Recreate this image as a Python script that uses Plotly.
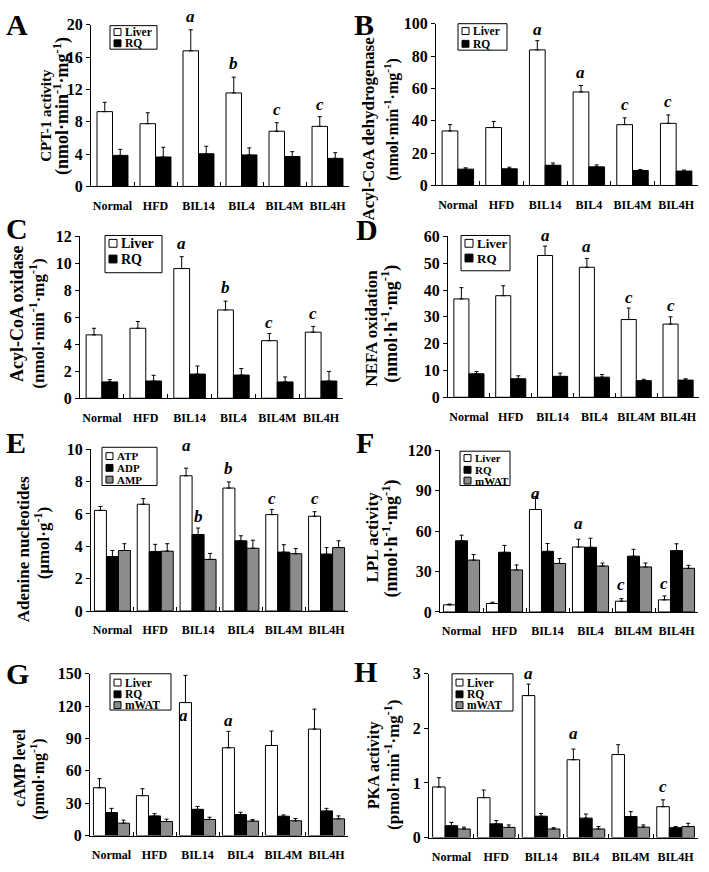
import plotly.graph_objects as go

W, H = 709, 872
categories = ['Normal', 'HFD', 'BIL14', 'BIL4', 'BIL4M', 'BIL4H']

# ---- Panel A: CPT-1 activity ----
a_liver = [9.25, 7.76, 16.77, 11.56, 6.83, 7.43]
a_liver_sem = [1.15, 1.35, 2.6, 1.95, 1.05, 1.2]
a_rq = [3.84, 3.64, 4.04, 3.90, 3.70, 3.47]
a_rq_sem = [0.75, 1.2, 0.93, 0.87, 0.6, 0.7]
a_marks = [('BIL14', 0, 21.0, 'a'), ('BIL4', 0, 15.2, 'b'), ('BIL4M', 0, 9.5, 'c'), ('BIL4H', 0, 10.1, 'c')]

# ---- Panel B: Acyl-CoA dehydrogenase ----
b_liver = [33.7, 35.8, 83.8, 57.8, 37.6, 38.4]
b_liver_sem = [3.9, 3.8, 5.7, 4.0, 4.2, 5.2]
b_rq = [10.1, 10.3, 12.5, 11.5, 9.3, 8.9]
b_rq_sem = [0.8, 1.0, 1.4, 1.2, 0.6, 0.6]
b_marks = [('BIL14', 0, 96.6, 'a'), ('BIL4', 0, 70.0, 'a'), ('BIL4M', 0, 50.0, 'c'), ('BIL4H', 0, 52.0, 'c')]

# ---- Panel C: Acyl-CoA oxidase ----
c_liver = [4.70, 5.19, 9.62, 6.55, 4.27, 4.90]
c_liver_sem = [0.49, 0.5, 0.88, 0.65, 0.53, 0.43]
c_rq = [1.21, 1.28, 1.79, 1.72, 1.21, 1.28]
c_rq_sem = [0.17, 0.42, 0.6, 0.48, 0.37, 0.71]
c_marks = [('BIL14', 0, 11.47, 'a'), ('BIL4', 0, 8.2, 'b'), ('BIL4M', 0, 5.65, 'c'), ('BIL4H', 0, 6.3, 'c')]

# ---- Panel D: NEFA oxidation ----
d_liver = [36.7, 37.9, 52.9, 48.5, 29.0, 27.3]
d_liver_sem = [4.2, 3.7, 3.5, 3.3, 4.3, 2.7]
d_rq = [8.75, 6.9, 7.8, 7.5, 6.2, 6.4]
d_rq_sem = [0.85, 1.1, 1.2, 1.0, 0.5, 0.5]
d_marks = [('BIL14', 0, 60.4, 'a'), ('BIL4', 0, 56.1, 'a'), ('BIL4M', 0, 37.4, 'c'), ('BIL4H', 0, 34.3, 'c')]

# ---- Panel E: Adenine nucleotides ----
e_atp = [6.22, 6.60, 8.36, 7.60, 5.96, 5.86]
e_atp_sem = [0.24, 0.35, 0.47, 0.38, 0.32, 0.28]
e_adp = [3.37, 3.68, 4.73, 4.34, 3.64, 3.52]
e_adp_sem = [0.37, 0.44, 0.4, 0.31, 0.46, 0.4]
e_amp = [3.74, 3.70, 3.19, 3.88, 3.54, 3.92]
e_amp_sem = [0.42, 0.46, 0.37, 0.5, 0.32, 0.42]
e_marks = [('BIL14', 0, 10.2, 'a'), ('BIL14', 1, 5.86, 'b'), ('BIL4', 0, 8.83, 'b'),
           ('BIL4M', 0, 6.97, 'c'), ('BIL4H', 0, 6.93, 'c')]

# ---- Panel F: LPL activity ----
f_liver = [5.3, 6.3, 76.0, 48.2, 8.0, 9.0]
f_liver_sem = [0.6, 1.0, 9.7, 5.8, 1.9, 2.9]
f_rq = [52.8, 44.3, 45.0, 48.0, 41.4, 45.5]
f_rq_sem = [4.2, 5.1, 5.8, 6.7, 5.1, 5.1]
f_mwat = [38.5, 31.2, 36.0, 34.1, 33.4, 32.4]
f_mwat_sem = [4.1, 3.7, 3.7, 2.2, 2.9, 2.2]
f_marks = [('BIL14', 0, 88.0, 'a'), ('BIL4', 0, 66.0, 'a'), ('BIL4M', 0, 20.6, 'c'), ('BIL4H', 0, 21.0, 'c')]

# ---- Panel G: cAMP level ----
g_liver = [44.3, 37.0, 123.3, 81.4, 83.5, 98.7]
g_liver_sem = [8.5, 6.4, 25.2, 15.2, 13.4, 18.5]
g_rq = [21.3, 18.2, 24.3, 19.4, 17.9, 22.8]
g_rq_sem = [3.9, 2.1, 2.7, 2.2, 1.2, 2.4]
g_mwat = [11.5, 13.0, 14.9, 13.4, 13.7, 15.5]
g_mwat_sem = [2.8, 2.2, 2.1, 1.5, 2.1, 2.7]
g_marks = [('BIL14', 0, 111.0, 'a'), ('BIL4', 0, 107.0, 'a')]

# ---- Panel H: PKA activity ----
h_liver = [0.926, 0.73, 2.60, 1.425, 1.52, 0.565]
h_liver_sem = [0.17, 0.14, 0.21, 0.195, 0.18, 0.125]
h_rq = [0.216, 0.25, 0.39, 0.355, 0.385, 0.18]
h_rq_sem = [0.06, 0.06, 0.05, 0.075, 0.09, 0.02]
h_mwat = [0.156, 0.186, 0.156, 0.156, 0.19, 0.20]
h_mwat_sem = [0.034, 0.044, 0.024, 0.044, 0.04, 0.06]
h_marks = [('BIL14', 0, 3.0, 'a'), ('BIL4', 0, 1.9, 'a'), ('BIL4H', 0, 0.93, 'c')]

# ---------------- styling / layout (pixels) ----------------
FONT = 'Liberation Serif'
FILL = {'Liver': 'white', 'ATP': 'white', 'RQ': 'black', 'ADP': 'black', 'mWAT': '#8c8c8c', 'AMP': '#8c8c8c'}

panels = [
    dict(L='A', series=[('Liver', a_liver, a_liver_sem), ('RQ', a_rq, a_rq_sem)], marks=a_marks,
         ymax=20, dtick=4, px=(91, 349, 17, 182), letter=(17, 17),
         t1=('CPT-1 activity', 46, 110, 15), t2=('(nmol·min<sup>-1</sup>·mg<sup>-1</sup>)', 62, 100, 18),
         leg=(110, 157, 18, 42, [24.5, 36], 11.5)),
    dict(L='B', series=[('Liver', b_liver, b_liver_sem), ('RQ', b_rq, b_rq_sem)], marks=b_marks,
         ymax=100, dtick=20, px=(436, 698, 16, 181), letter=(364, 17),
         t1=('Acyl-CoA dehydrogenase', 369, 123, 17), t2=('(nmol·min<sup>-1</sup>·mg<sup>-1</sup>)', 392, 114, 16),
         leg=(458, 507, 16, 43, [23.5, 36.5], 11.5)),
    dict(L='C', series=[('Liver', c_liver, c_liver_sem), ('RQ', c_rq, c_rq_sem)], marks=c_marks,
         ymax=12, dtick=2, px=(80, 343, 233, 398), letter=(17, 225),
         t1=('Acyl-CoA oxidase', 17, 312, 18), t2=('(nmol·min<sup>-1</sup>·mg<sup>-1</sup>)', 37, 322, 17),
         leg=(105, 162, 232, 270, [240, 256], 14)),
    dict(L='D', series=[('Liver', d_liver, d_liver_sem), ('RQ', d_rq, d_rq_sem)], marks=d_marks,
         ymax=60, dtick=10, px=(448, 699, 233, 397), letter=(367, 226),
         t1=('NEFA oxidation', 372, 327, 17), t2=('(nmol·h<sup>-1</sup>·mg<sup>-1</sup>)', 390, 322, 18),
         leg=(461, 510, 232, 268, [240, 255], 13)),
    dict(L='E', series=[('ATP', e_atp, e_atp_sem), ('ADP', e_adp, e_adp_sem), ('AMP', e_amp, e_amp_sem)],
         marks=e_marks, ymax=10, dtick=2, px=(91, 348, 450, 615), letter=(16, 443),
         t1=('Adenine nucleotides', 23, 552, 17), t2=('(μmol·g<sup>-1</sup>)', 42, 546, 17),
         leg=(102, 157, 448, 487, [457, 469, 481], 11)),
    dict(L='F', series=[('Liver', f_liver, f_liver_sem), ('RQ', f_rq, f_rq_sem), ('mWAT', f_mwat, f_mwat_sem)],
         marks=f_marks, ymax=120, dtick=30, px=(440, 698, 451, 616), letter=(365, 443),
         t1=('LPL activity', 372, 540, 17), t2=('(nmol·h<sup>-1</sup>·mg<sup>-1</sup>)', 391, 541, 18),
         leg=(460, 510, 452, 487, [459, 471, 482], 11)),
    dict(L='G', series=[('Liver', g_liver, g_liver_sem), ('RQ', g_rq, g_rq_sem), ('mWAT', g_mwat, g_mwat_sem)],
         marks=g_marks, ymax=150, dtick=30, px=(90, 348, 679, 844), letter=(17, 679),
         t1=('cAMP level', 20, 775, 16), t2=('(pmol·mg<sup>-1</sup>)', 38, 787, 16),
         leg=(110, 171, 679, 716, [688, 700, 711], 11.5)),
    dict(L='H', series=[('Liver', h_liver, h_liver_sem), ('RQ', h_rq, h_rq_sem), ('mWAT', h_mwat, h_mwat_sem)],
         marks=h_marks, ymax=3, dtick=1, px=(429, 698, 679, 846), letter=(365, 677),
         t1=('PKA activity', 374, 772, 16), t2=('(pmol·min<sup>-1</sup>·mg<sup>-1</sup>)', 392, 772, 17),
         leg=(452, 513, 679, 717, [688, 700, 711], 11.5)),
]


def px_x(v):
    return v / W


def px_y(v):
    return 1 - v / H


fig = go.Figure()
layout = dict(width=W, height=H, margin=dict(l=0, r=0, t=0, b=0), paper_bgcolor='white',
              plot_bgcolor='white', showlegend=False, barmode='overlay')
annotations = []
shapes = []

for i, p in enumerate(panels):
    n = i + 1
    xa = 'x' if n == 1 else f'x{n}'
    ya = 'y' if n == 1 else f'y{n}'
    xk = 'xaxis' if n == 1 else f'xaxis{n}'
    yk = 'yaxis' if n == 1 else f'yaxis{n}'
    x0, x1, yt, yb = p['px']
    ns = len(p['series'])
    bw = 0.36 if ns == 2 else 0.28
    start = -bw * ns / 2
    for j, (name, vals, sem) in enumerate(p['series']):
        fig.add_trace(go.Bar(
            x=categories, y=vals, name=name, xaxis=xa, yaxis=ya,
            width=bw, offset=start + j * bw,
            marker=dict(color=FILL[name], line=dict(color='black', width=1)),
            error_y=dict(type='data', symmetric=False, array=sem, arrayminus=[0] * len(sem),
                         color='black', thickness=1, width=2),
        ))
    layout[xk] = dict(domain=[px_x(x0), px_x(x1)], anchor=ya, type='category',
                      categoryorder='array', categoryarray=categories, range=[-0.5, 5.5],
                      showline=True, linecolor='black', linewidth=1, tickson='boundaries',
                      ticks='inside', ticklen=4, tickcolor='black', showgrid=False, zeroline=False,
                      tickangle=0,
                      tickfont=dict(family=FONT, size=12, color='black', weight='bold'),
                      ticklabelstandoff=8)
    layout[yk] = dict(domain=[px_y(yb), px_y(yt)], anchor=xa, range=[0, p['ymax']],
                      tick0=0, dtick=p['dtick'], showline=True, linecolor='black', linewidth=1,
                      ticks='outside', ticklen=4, tickcolor='black', showgrid=False, zeroline=False,
                      tickfont=dict(family=FONT, size=16, color='black', weight='bold'))
    # significance marks (x in category units, y as fraction of the y axis)
    for cat, sidx, yv, txt in p['marks']:
        xi = categories.index(cat) + start + (sidx + 0.5) * bw
        if p['L'] == 'G' and cat == 'BIL14':
            xi -= 0.05
        annotations.append(dict(x=xi, y=yv / p['ymax'], xref=xa, yref=f'{ya} domain', text=txt,
                                showarrow=False,
                                font=dict(family=FONT, size=17, color='black', weight='bold', style='italic'),
                                xanchor='center', yanchor='middle'))
    # panel letter
    lx, ly = p['letter']
    annotations.append(dict(x=px_x(lx), y=px_y(ly), xref='paper', yref='paper', text=p['L'],
                            showarrow=False, xanchor='center', yanchor='middle',
                            font=dict(family=FONT, size=30, color='black', weight='bold')))
    # y-axis titles (two lines)
    for (txt, tx, ty, fs) in (p['t1'], p['t2']):
        annotations.append(dict(x=px_x(tx), y=px_y(ty), xref='paper', yref='paper', text=txt,
                                showarrow=False, textangle=-90, xanchor='center', yanchor='middle',
                                font=dict(family=FONT, size=fs, color='black', weight='bold')))
    # legend box
    bx0, bx1, by0, by1, rows, fs = p['leg']
    shapes.append(dict(type='rect', xref='paper', yref='paper', x0=px_x(bx0), x1=px_x(bx1),
                       y0=px_y(by1), y1=px_y(by0), line=dict(color='black', width=1),
                       fillcolor='white', layer='above'))
    sw = 7 if fs <= 12 else 8
    for (name, _, _), ry in zip(p['series'], rows):
        sx0 = bx0 + 4
        shapes.append(dict(type='rect', xref='paper', yref='paper', x0=px_x(sx0), x1=px_x(sx0 + sw),
                           y0=px_y(ry + sw / 2), y1=px_y(ry - sw / 2),
                           line=dict(color='black', width=1), fillcolor=FILL[name], layer='above'))
        annotations.append(dict(x=px_x(sx0 + sw + 2), y=px_y(ry), xref='paper', yref='paper',
                                text=name, showarrow=False, xanchor='left', yanchor='middle',
                                font=dict(family=FONT, size=fs, color='black', weight='bold')))

layout['annotations'] = annotations
layout['shapes'] = shapes
fig.update_layout(**layout)
fig.write_html('out.html', config={'displayModeBar': False},
               post_script="document.body.style.margin='0';")
